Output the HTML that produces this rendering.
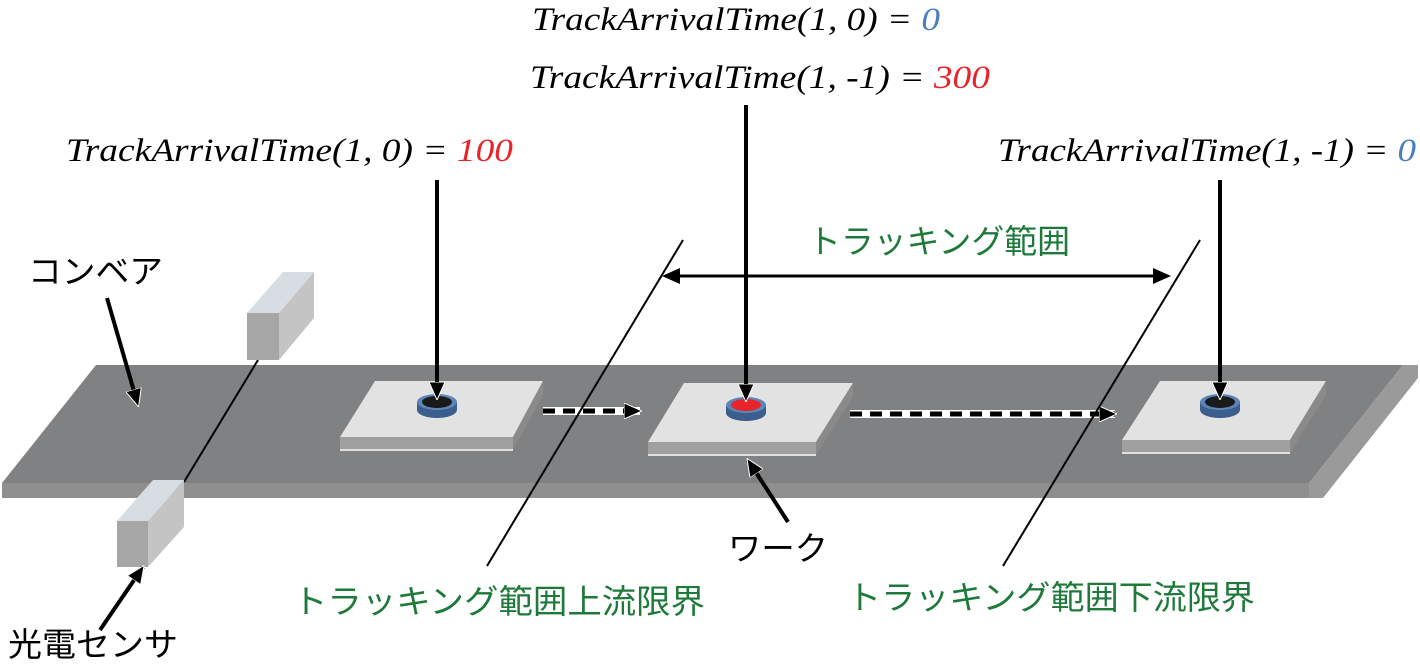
<!DOCTYPE html>
<html><head><meta charset="utf-8"><style>
html,body{margin:0;padding:0;background:#fff}
svg{display:block}
.t{font-family:"Liberation Serif",serif;font-style:italic;font-size:33px;fill:#000}
.j{font-family:"Liberation Sans","Noto Sans CJK JP",sans-serif;font-size:33px}
</style></head><body>
<svg width="1420" height="667" viewBox="0 0 1420 667" xmlns="http://www.w3.org/2000/svg">
<defs>
<marker id="ah2" markerWidth="18" markerHeight="16" refX="16" refY="8" orient="auto" markerUnits="userSpaceOnUse" viewBox="0 0 18 16">
<path d="M0,0 L18,8 L0,16 Z" fill="#000" stroke="#fff" stroke-width="1"/></marker>
</defs>
<polygon points="96,365 1403,365 1309,483 2,483" fill="#808182"/>
<polygon points="1403,365 1418,365 1418,378 1323,498 1309,498 1309,483" fill="#9a9a9a"/>
<rect x="2" y="483" width="1307" height="15" fill="#8f8f8f"/>
<line x1="258" y1="360" x2="184" y2="482" stroke="#000" stroke-width="2"/>
<polygon points="247,313 279,313 314,272 283,272" fill="#d8dde3"/>
<polygon points="279,313 314,272 314,318 279,360" fill="#c4c4c4"/>
<rect x="247" y="313" width="32" height="47" fill="#a6a6a6"/>
<g>
<polygon points="375,381 543,381 513,437 340,437" fill="#e2e2e2"/>
<polygon points="543,381 543,395 513,450 513,437" fill="#8a8a8a"/>
<rect x="340" y="437" width="173" height="13" fill="#a0a0a0"/>
<line x1="340" y1="450" x2="513" y2="450" stroke="#e0e0e0" stroke-width="2"/>
</g>
<g>
<polygon points="684,383 853,383 816,442 648,442" fill="#e2e2e2"/>
<polygon points="853,383 853,397 816,455 816,442" fill="#8a8a8a"/>
<rect x="648" y="442" width="168" height="13" fill="#a0a0a0"/>
<line x1="648" y1="455" x2="816" y2="455" stroke="#e0e0e0" stroke-width="2"/>
</g>
<g>
<polygon points="1160,381 1326,381 1290,440 1122,440" fill="#e2e2e2"/>
<polygon points="1326,381 1326,395 1290,453 1290,440" fill="#8a8a8a"/>
<rect x="1122" y="440" width="168" height="13" fill="#a0a0a0"/>
<line x1="1122" y1="453" x2="1290" y2="453" stroke="#e0e0e0" stroke-width="2"/>
</g>
<g>
<ellipse cx="437" cy="410" rx="20" ry="8" fill="#3b5e8c"/><rect x="417" y="402" width="40" height="8" fill="#3b5e8c"/>
<ellipse cx="437" cy="402" rx="20" ry="8" fill="#5b84b8"/><ellipse cx="437" cy="402" rx="15" ry="6" fill="#1a1a1a"/>
</g>
<g>
<ellipse cx="746" cy="413" rx="20" ry="8" fill="#3b5e8c"/><rect x="726" y="405" width="40" height="8" fill="#3b5e8c"/>
<ellipse cx="746" cy="405" rx="20" ry="8" fill="#5b84b8"/><ellipse cx="746" cy="405" rx="15" ry="6" fill="#e8242a"/>
</g>
<g>
<ellipse cx="1220" cy="410" rx="20" ry="8" fill="#3b5e8c"/><rect x="1200" y="402" width="40" height="8" fill="#3b5e8c"/>
<ellipse cx="1220" cy="402" rx="20" ry="8" fill="#5b84b8"/><ellipse cx="1220" cy="402" rx="15" ry="6" fill="#1a1a1a"/>
</g>
<line x1="543" y1="411" x2="640" y2="411" stroke="#fff" stroke-width="8"/>
<line x1="543" y1="411" x2="640" y2="411" stroke="#000" stroke-width="5" stroke-dasharray="12,8" marker-end="url(#ah2)"/>
<line x1="850" y1="414" x2="1115" y2="414" stroke="#fff" stroke-width="8"/>
<line x1="850" y1="414" x2="1115" y2="414" stroke="#000" stroke-width="5" stroke-dasharray="12,8" marker-end="url(#ah2)"/>
<polygon points="117,521 148,521 184,480 153,480" fill="#d8dde3"/>
<polygon points="148,521 184,480 184,527 148,567" fill="#c4c4c4"/>
<rect x="117" y="521" width="31" height="46" fill="#a6a6a6"/>
<line x1="683" y1="240" x2="487" y2="566" stroke="#000" stroke-width="2"/>
<line x1="1200" y1="240" x2="1003" y2="566" stroke="#000" stroke-width="2"/>
<line x1="437" y1="180" x2="437" y2="398" stroke="#000" stroke-width="4" marker-end="url(#ah2)"/>
<line x1="746" y1="105" x2="746" y2="400" stroke="#000" stroke-width="4" marker-end="url(#ah2)"/>
<line x1="1220" y1="180" x2="1220" y2="398" stroke="#000" stroke-width="4" marker-end="url(#ah2)"/>
<line x1="107" y1="298" x2="138" y2="405" stroke="#000" stroke-width="4" marker-end="url(#ah2)"/>
<line x1="100" y1="630" x2="143" y2="567" stroke="#000" stroke-width="4" marker-end="url(#ah2)"/>
<line x1="788" y1="522" x2="748" y2="460" stroke="#000" stroke-width="4" marker-end="url(#ah2)"/>
<line x1="675" y1="276" x2="1158" y2="276" stroke="#000" stroke-width="3"/>
<path d="M662,276 L680,268 L680,284 Z" fill="#000"/>
<path d="M1171,276 L1153,268 L1153,284 Z" fill="#000"/>
<text class="t" x="532" y="30" textLength="408" lengthAdjust="spacingAndGlyphs">TrackArrivalTime(1, 0) = <tspan fill="#4a7ebf">0</tspan></text>
<text class="t" x="530" y="88" textLength="460" lengthAdjust="spacingAndGlyphs">TrackArrivalTime(1, -1) = <tspan fill="#e8242a">300</tspan></text>
<text class="t" x="66" y="161" textLength="447" lengthAdjust="spacingAndGlyphs">TrackArrivalTime(1, 0) = <tspan fill="#e8242a">100</tspan></text>
<text class="t" x="998" y="161" textLength="418" lengthAdjust="spacingAndGlyphs">TrackArrivalTime(1, -1) = <tspan fill="#4a7ebf">0</tspan></text>
<text class="j" x="808" y="253" fill="#1e7a3a" textLength="262" lengthAdjust="spacingAndGlyphs">トラッキング範囲</text>
<text class="j" x="28" y="283" fill="#000" textLength="135" lengthAdjust="spacingAndGlyphs">コンベア</text>
<text class="j" x="8" y="656" fill="#000" textLength="170" lengthAdjust="spacingAndGlyphs">光電センサ</text>
<text class="j" x="728" y="560" fill="#000" textLength="100" lengthAdjust="spacingAndGlyphs">ワーク</text>
<text class="j" x="293" y="613" fill="#1e7a3a" textLength="412" lengthAdjust="spacingAndGlyphs">トラッキング範囲上流限界</text>
<text class="j" x="847" y="609" fill="#1e7a3a" textLength="408" lengthAdjust="spacingAndGlyphs">トラッキング範囲下流限界</text>
</svg>
</body></html>
